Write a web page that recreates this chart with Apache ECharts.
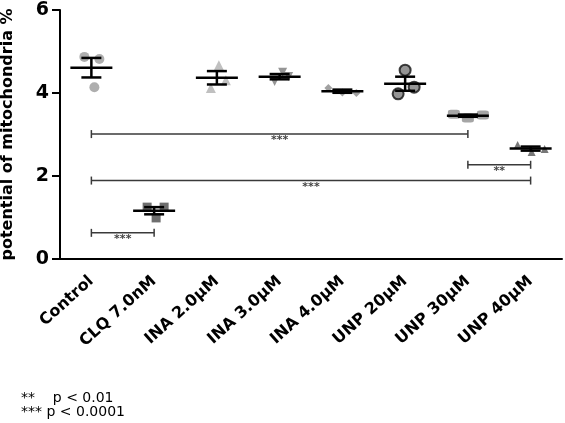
<!DOCTYPE html>
<html lang="en">
<head>
  <meta charset="UTF-8">
  <title>potential of mitochondria</title>
  <script src="https://cdn.jsdelivr.net/npm/echarts@6/dist/echarts.min.js"></script>
</head>
<body style="margin:0;width:565px;height:423px;overflow:hidden;background:#fff;">
  <div id="main" style="width:565px;height:423px;"></div>
</body>
<script>
  // groups on the x axis
  var categories = ['Control', 'CLQ 7.0nM', 'INA 2.0µM', 'INA 3.0µM', 'INA 4.0µM', 'UNP 20µM', 'UNP 30µM', 'UNP 40µM'];

  // three replicates per group
  var control = [4.87, 4.82, 4.14];
  var clq7 = [1.25, 1.25, 0.99];
  var ina2 = [4.67, 4.12, 4.31];
  var ina3 = [4.50, 4.28, 4.40];
  var ina4 = [4.12, 4.01, 4.00];
  var unp20 = [4.55, 3.98, 4.14];
  var unp30 = [3.49, 3.40, 3.47];
  var unp40 = [2.75, 2.58, 2.65];

  // significance brackets: from group, to group, height, label
  var brackets = [
    [0, 6, 3.01, '***'],
    [0, 7, 1.89, '***'],
    [6, 7, 2.27, '**'],
    [0, 1, 0.63, '***']
  ];

  var yTicks = [0, 2, 4, 6];

  var groups = [control, clq7, ina2, ina3, ina4, unp20, unp30, unp40];
</script>

<script>
  var myChart = echarts.init(document.getElementById('main'));
  var FONT = '"DejaVu Sans", "Liberation Sans", Arial, sans-serif';

  // how each group's dots look (jitter in px so the dots don't sit on top of each other)
  var looks = [
    {symbol: 'circle', size: 10, color: '#9a9a9a', jitter: [-7, 8, 3]},
    {symbol: 'rect', size: 9, color: '#4a4a4a', jitter: [-7, 10, 2]},
    {symbol: 'triangle', size: 10, color: '#b0b0b0', jitter: [2, -6, 9]},
    {symbol: 'triangle', size: 9, color: '#7a7a7a', jitter: [3, -5, 9], rotate: 180},
    {symbol: 'diamond', size: 8, color: '#8a8a8a', jitter: [-14, 0, 14]},
    {symbol: 'circle', size: 11, color: '#7a7a7a', jitter: [0, -7, 9], border: '#111'},
    {symbol: 'roundRect', size: [12, 9], color: '#8f8f8f', jitter: [-14, 0, 15]},
    {symbol: 'triangle', size: 8, color: '#555', jitter: [-13, 1, 14]}
  ];

  var pointSeries = groups.map(function (vals, gi) {
    var lk = looks[gi];
    return {
      type: 'scatter',
      z: 2,
      symbol: lk.symbol,
      symbolSize: lk.size,
      symbolRotate: lk.rotate || 0,
      itemStyle: {
        color: lk.color,
        borderColor: lk.border || lk.color,
        borderWidth: lk.border ? 2 : 0
      },
      data: vals.map(function (v, i) {
        return {value: [gi, v], symbolOffset: [lk.jitter[i], 0]};
      })
    };
  });

  // mean +/- SEM
  var stats = groups.map(function (vals, gi) {
    var n = vals.length;
    var mean = vals.reduce(function (a, b) { return a + b; }, 0) / n;
    var sd = Math.sqrt(vals.reduce(function (a, b) { return a + (b - mean) * (b - mean); }, 0) / (n - 1));
    return [gi, mean, sd / Math.sqrt(n)];
  });

  var meanSeries = {
    type: 'custom',
    z: 5,
    data: stats,
    renderItem: function (params, api) {
      var c = api.coord([api.value(0), api.value(1)]);
      var top = api.coord([api.value(0), api.value(1) + api.value(2)]);
      var bot = api.coord([api.value(0), api.value(1) - api.value(2)]);
      var st = {stroke: '#000', lineWidth: 2.5};
      return {
        type: 'group',
        children: [
          {type: 'line', shape: {x1: c[0] - 21, y1: c[1], x2: c[0] + 21, y2: c[1]}, style: st},
          {type: 'line', shape: {x1: c[0], y1: top[1], x2: c[0], y2: bot[1]}, style: st},
          {type: 'line', shape: {x1: c[0] - 10, y1: top[1], x2: c[0] + 10, y2: top[1]}, style: st},
          {type: 'line', shape: {x1: c[0] - 10, y1: bot[1], x2: c[0] + 10, y2: bot[1]}, style: st}
        ]
      };
    }
  };

  var bracketSeries = {
    type: 'custom',
    z: 1,
    data: brackets,
    renderItem: function (params, api) {
      var a = api.coord([api.value(0), api.value(2)]);
      var b = api.coord([api.value(1), api.value(2)]);
      var st = {stroke: '#3a3a3a', lineWidth: 1.5};
      return {
        type: 'group',
        children: [
          {type: 'line', shape: {x1: a[0], y1: a[1], x2: b[0], y2: b[1]}, style: st},
          {type: 'line', shape: {x1: a[0], y1: a[1] - 4, x2: a[0], y2: a[1] + 4}, style: st},
          {type: 'line', shape: {x1: b[0], y1: b[1] - 4, x2: b[0], y2: b[1] + 4}, style: st},
          {
            type: 'text',
            style: {
              text: brackets[params.dataIndex][3],
              x: (a[0] + b[0]) / 2,
              y: a[1] + 1,
              align: 'center',
              verticalAlign: 'top',
              fill: '#444',
              font: 'bold 11px ' + FONT
            }
          }
        ]
      };
    }
  };

  option = {
    backgroundColor: '#fff',
    animation: false,
    textStyle: {fontFamily: FONT},
    grid: {left: 60, right: 3, top: 10, bottom: 164, containLabel: false, outerBoundsMode: 'none'},
    xAxis: {
      type: 'category',
      data: categories,
      axisLine: {lineStyle: {color: '#000', width: 2}},
      axisTick: {alignWithLabel: true, length: 7, lineStyle: {color: '#000', width: 2}},
      axisLabel: {
        interval: 0,
        rotate: 42,
        margin: 20,
        color: '#000',
        fontWeight: 'bold',
        fontSize: 16
      },
      splitLine: {show: false}
    },
    yAxis: {
      type: 'value',
      min: yTicks[0],
      max: yTicks[yTicks.length - 1],
      interval: 2,
      name: 'potential of mitochondria %',
      nameLocation: 'middle',
      nameGap: 44,
      nameTextStyle: {color: '#000', fontWeight: 'bold', fontSize: 16},
      axisLine: {show: true, lineStyle: {color: '#000', width: 2}},
      axisTick: {show: true, length: 8, lineStyle: {color: '#000', width: 2}},
      axisLabel: {color: '#000', fontWeight: 'bold', fontSize: 19, margin: 11},
      splitLine: {show: false}
    },
    graphic: [
      {type: 'text', left: 21, top: 391, style: {text: '**    p < 0.01', fill: '#000', font: '14px ' + FONT}},
      {type: 'text', left: 21, top: 405, style: {text: '*** p < 0.0001', fill: '#000', font: '14px ' + FONT}}
    ],
    series: pointSeries.concat([meanSeries, bracketSeries])
  };

  myChart.setOption(option);
</script>
</html>
